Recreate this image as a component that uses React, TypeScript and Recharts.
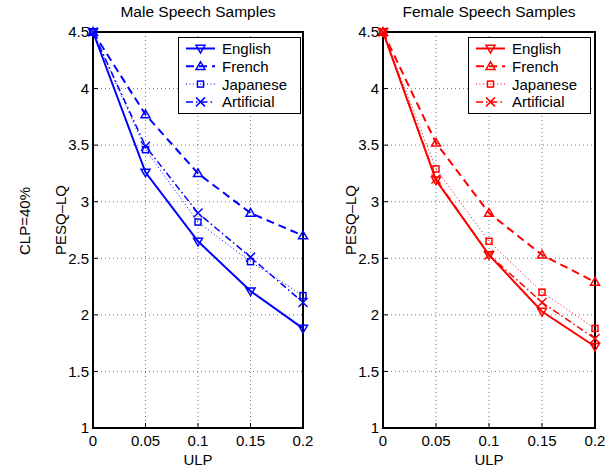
import React from 'react';
import {
  CartesianGrid,
  Line,
  LineChart,
  ReferenceArea,
  XAxis,
  YAxis,
} from 'recharts';

// ULP values on the x axis
const ulp = [0, 0.05, 0.1, 0.15, 0.2];
const xTicks = [0, 0.05, 0.1, 0.15, 0.2];
const yTicks = [1, 1.5, 2, 2.5, 3, 3.5, 4, 4.5];

// Male speech samples (PESQ-LQ)
const maleEnglish = [4.5, 3.26, 2.65, 2.21, 1.88];
const maleFrench = [4.5, 3.77, 3.25, 2.9, 2.7];
const maleJapanese = [4.5, 3.46, 2.82, 2.47, 2.17];
const maleArtificial = [4.5, 3.49, 2.9, 2.51, 2.11];

// Female speech samples (PESQ-LQ)
const femaleEnglish = [4.5, 3.19, 2.53, 2.03, 1.72];
const femaleFrench = [4.5, 3.52, 2.9, 2.53, 2.29];
const femaleJapanese = [4.5, 3.29, 2.65, 2.2, 1.88];
const femaleArtificial = [4.5, 3.2, 2.53, 2.11, 1.79];

const seriesNames = ['English', 'French', 'Japanese', 'Artificial'];

const FONT = '"Liberation Sans", Arial, sans-serif';

type Shape = 'down' | 'up' | 'square' | 'x';

const styles: Array<{ key: string; shape: Shape; width: number; dash?: string }> = [
  { key: 'english', shape: 'down', width: 2 },
  { key: 'french', shape: 'up', width: 2, dash: '8 5' },
  { key: 'japanese', shape: 'square', width: 1, dash: '1 2.5' },
  { key: 'artificial', shape: 'x', width: 1.5, dash: '7 3 1.5 3' },
];

function buildRows(e: number[], f: number[], j: number[], a: number[]) {
  return ulp.map((x, i) => ({
    ulp: x,
    english: e[i],
    french: f[i],
    japanese: j[i],
    artificial: a[i],
  }));
}

const maleData = buildRows(maleEnglish, maleFrench, maleJapanese, maleArtificial);
const femaleData = buildRows(femaleEnglish, femaleFrench, femaleJapanese, femaleArtificial);

function Marker({ cx, cy, shape, color }: { cx: number; cy: number; shape: Shape; color: string }) {
  const s = 4.5;
  if (shape === 'down')
    return (
      <polygon
        points={`${cx - s},${cy - s * 0.7} ${cx + s},${cy - s * 0.7} ${cx},${cy + s}`}
        fill='none'
        stroke={color}
        strokeWidth={1.5}
      />
    );
  if (shape === 'up')
    return (
      <polygon
        points={`${cx - s},${cy + s * 0.7} ${cx + s},${cy + s * 0.7} ${cx},${cy - s}`}
        fill='none'
        stroke={color}
        strokeWidth={1.5}
      />
    );
  if (shape === 'square')
    return (
      <rect x={cx - 3} y={cy - 3} width={6} height={6} fill='none' stroke={color} strokeWidth={1.5} />
    );
  return (
    <g stroke={color} strokeWidth={1.5}>
      <line x1={cx - s} y1={cy - s} x2={cx + s} y2={cy + s} />
      <line x1={cx - s} y1={cy + s} x2={cx + s} y2={cy - s} />
    </g>
  );
}

const makeDot = (shape: Shape, color: string) => (props: any) => (
  <Marker key={`${shape}-${props.index}`} cx={props.cx} cy={props.cy} shape={shape} color={color} />
);

function LegendBox({ color, left, top }: { color: string; left: number; top: number }) {
  return (
    <svg
      width={123}
      height={77}
      style={{ position: 'absolute', left, top, fontFamily: FONT }}
    >
      <rect x={0.5} y={0.5} width={122} height={76} fill='#fff' stroke='#000' strokeWidth={1} />
      {styles.map((s, i) => {
        const y = 11.5 + i * 17.8;
        return (
          <g key={s.key}>
            <line
              x1={8}
              x2={37}
              y1={y}
              y2={y}
              stroke={color}
              strokeWidth={s.width}
              strokeDasharray={s.dash}
            />
            <Marker cx={22.5} cy={y} shape={s.shape} color={color} />
            <text x={44} y={y + 5.5} fontSize={15} fill='#000'>
              {seriesNames[i]}
            </text>
          </g>
        );
      })}
    </svg>
  );
}

function Panel({
  data,
  color,
  left,
  width,
}: {
  data: typeof maleData;
  color: string;
  left: number;
  width: number;
}) {
  return (
    <div style={{ position: 'absolute', left, top: 0 }}>
      <LineChart
        width={width}
        height={470}
        data={data}
        margin={{ top: 32, right: 22, bottom: 0, left: 0 }}
        style={{ fontFamily: FONT }}
      >
        <CartesianGrid stroke='#777' strokeDasharray='1 3' />
        <XAxis
          dataKey='ulp'
          type='number'
          domain={[0, 0.2]}
          ticks={xTicks}
          height={42}
          axisLine={false}
          tickSize={-5}
          tickMargin={12}
          tickLine={{ stroke: '#000', strokeWidth: 1 }}
          tick={{ fill: '#000', fontSize: 15 }}
          interval={0}
        />
        <YAxis
          type='number'
          domain={[1, 4.5]}
          ticks={yTicks}
          width={93}
          axisLine={false}
          tickSize={-5}
          tickMargin={9}
          tickLine={{ stroke: '#000', strokeWidth: 1 }}
          tick={{ fill: '#000', fontSize: 15 }}
          interval={0}
        />
        <ReferenceArea
          x1={0}
          x2={0.2}
          y1={1}
          y2={4.5}
          fill='none'
          stroke='#000'
          strokeWidth={2}
          ifOverflow='visible'
        />
        {styles.map(s => (
          <Line
            key={s.key}
            type='linear'
            dataKey={s.key}
            stroke={color}
            strokeWidth={s.width}
            strokeDasharray={s.dash}
            dot={makeDot(s.shape, color)}
            activeDot={false}
            isAnimationActive={false}
          />
        ))}
      </LineChart>
    </div>
  );
}

const labelStyle: React.CSSProperties = {
  position: 'absolute',
  fontFamily: FONT,
  fontSize: 15,
  color: '#000',
  whiteSpace: 'nowrap',
  lineHeight: '1',
};

function CenteredText({
  x,
  y,
  text,
  rotate,
  size,
}: {
  x: number;
  y: number;
  text: string;
  rotate?: boolean;
  size?: number;
}) {
  return (
    <div
      style={{
        ...labelStyle,
        fontSize: size ?? 15,
        left: x,
        top: y,
        transform: `translate(-50%, -50%)${rotate ? ' rotate(-90deg)' : ''}`,
      }}
    >
      {text}
    </div>
  );
}

export default function App() {
  return (
    <div
      style={{
        position: 'absolute',
        left: 0,
        top: 0,
        width: 612,
        height: 470,
        background: '#fff',
        overflow: 'hidden',
      }}
    >
      <Panel data={maleData} color='#0000ff' left={0} width={325} />
      <Panel data={femaleData} color='#ff0000' left={290} width={327} />
      <LegendBox color='#0000ff' left={178} top={37} />
      <LegendBox color='#ff0000' left={468} top={37} />
      <CenteredText x={198} y={12} text='Male Speech Samples' size={15.5} />
      <CenteredText x={489} y={12} text='Female Speech Samples' size={15.5} />
      <CenteredText x={198} y={459} text='ULP' />
      <CenteredText x={489} y={459} text='ULP' />
      <CenteredText x={60} y={220} text='PESQ–LQ' rotate />
      <CenteredText x={350} y={220} text='PESQ–LQ' rotate />
      <CenteredText x={24} y={221} text='CLP=40%' rotate />
    </div>
  );
}
